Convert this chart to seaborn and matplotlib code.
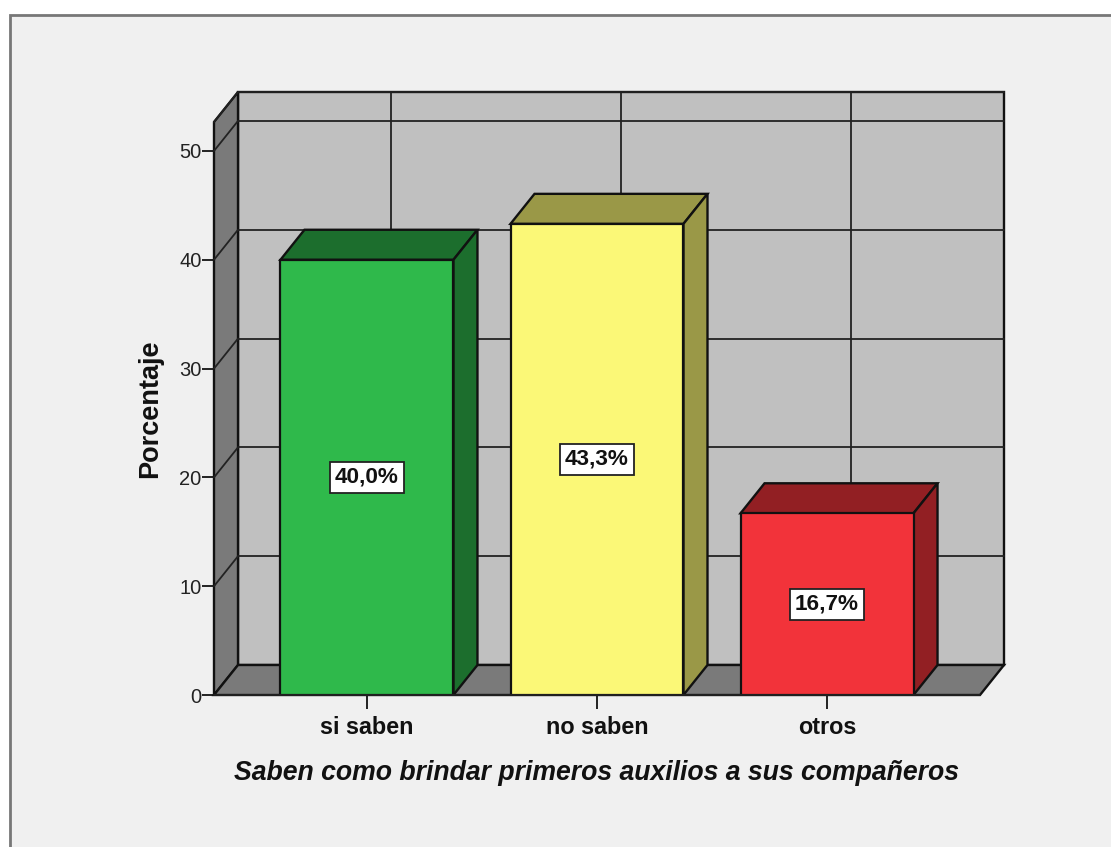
import pandas as pd
import matplotlib.pyplot as plt
import seaborn as sns
from matplotlib.patches import Polygon, Rectangle

# =========================
# DATA
# =========================

categorias = ["si saben", "no saben", "otros"]
porcentajes = [40.0, 43.3, 16.7]
etiquetas = ["40,0%", "43,3%", "16,7%"]
y_ticks = [0, 10, 20, 30, 40, 50]

colores_frente = ["#2FB94B", "#FBF877", "#F2333A"]
colores_lado = ["#1C6E2D", "#9A9847", "#921F23"]

# =========================
# FIGURE
# =========================

W, H = 1111, 847
sns.set_theme(style="white")
plt.rcParams["font.family"] = ["Liberation Sans", "DejaVu Sans"]

fig = plt.figure(figsize=(W / 100, H / 100), dpi=100, facecolor="white")
fig.add_artist(Rectangle((10 / W, -0.01), 1.01, 1.01 - 15 / H, transform=fig.transFigure,
                         facecolor="#F0F0F0", edgecolor="#777777", linewidth=2, zorder=-1))

ax = fig.add_axes([214 / W, (H - 695) / H, 766 / W, 573 / H])
ax.patch.set_visible(False)

df = pd.DataFrame({"categoria": categorias, "porcentaje": porcentajes})
sns.barplot(data=df, x="categoria", y="porcentaje", hue="categoria", palette=colores_frente,
            width=0.752, saturation=1, edgecolor="#111111", linewidth=1.6,
            legend=False, ax=ax)

x0, x1 = -0.665, 2.665
ymax = 52.66
ax.set_xlim(x0, x1)
ax.set_ylim(0, ymax)

# depth of the fake 3D box, in data units
dx = 24 * (x1 - x0) / 766
dy = 30 * ymax / 573


def poly(puntos, color, z):
    ax.add_patch(Polygon(puntos, closed=True, facecolor=color, edgecolor="#111111",
                         linewidth=1.7, zorder=z, clip_on=False))


def linea(xs, ys, z=2):
    ax.plot(xs, ys, color="#222222", linewidth=1.3, zorder=z, clip_on=False)


# =========================
# WALLS AND FLOOR
# =========================

poly([(x0 + dx, dy), (x1 + dx, dy), (x1 + dx, ymax + dy), (x0 + dx, ymax + dy)], "#C0C0C0", 1)
poly([(x0, 0), (x0 + dx, dy), (x0 + dx, ymax + dy), (x0, ymax)], "#7A7A7A", 1)
poly([(x0, 0), (x1, 0), (x1 + dx, dy), (x0 + dx, dy)], "#7A7A7A", 1)

for t in y_ticks[1:] + [ymax]:
    linea([x0, x0 + dx], [t, t + dy])
    linea([x0 + dx, x1 + dx], [t + dy, t + dy])
for i in range(len(categorias)):
    linea([i + dx, i + dx], [dy, ymax + dy])

# =========================
# BARS
# =========================

for barra, lado, texto in zip(ax.patches, colores_lado, etiquetas):
    a = barra.get_x()
    b = a + barra.get_width()
    h = barra.get_height()
    barra.set_zorder(5)
    poly([(a, h), (b, h), (b + dx, h + dy), (a + dx, h + dy)], lado, 4)
    poly([(b, 0), (b + dx, dy), (b + dx, h + dy), (b, h)], lado, 4)
    ax.text((a + b) / 2, h / 2, texto, ha="center", va="center", fontsize=16.2,
            fontweight="bold", color="#111111", zorder=6,
            bbox=dict(boxstyle="square,pad=0.22", facecolor="white", edgecolor="#222222", linewidth=1.3))

# =========================
# AXES TEXT
# =========================

sns.despine(ax=ax, left=True, bottom=True, top=True, right=True)
ax.set_yticks(y_ticks)
ax.set_xticks(range(len(categorias)))
ax.set_xticklabels(categorias, fontsize=16.8, fontweight="bold", color="#111111")
ax.tick_params(axis="y", left=True, length=8.5, width=1.4, color="#222222", pad=0.5,
               labelsize=14.5, labelcolor="#222222")
ax.tick_params(axis="x", bottom=True, length=10, width=1.4, color="#222222", pad=5)
linea([x0, x1], [0, 0], z=7)

ax.set_xlabel("Saben como brindar primeros auxilios a sus compañeros", fontsize=19.2,
              fontweight="bold", fontstyle="italic", color="#111111", va="center")
ax.xaxis.set_label_coords(0.5, -0.136)
ax.set_ylabel("Porcentaje", fontsize=19.5, fontweight="bold", color="#111111", va="center")
ax.yaxis.set_label_coords((150 - 214) / 766, 0.5)

fig.savefig("out.png", dpi=100, facecolor=fig.get_facecolor())
